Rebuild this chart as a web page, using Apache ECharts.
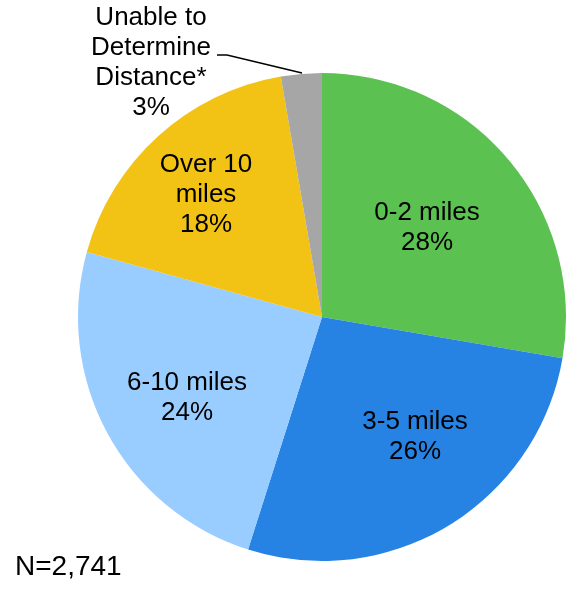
<!DOCTYPE html>
<html>
<head>
<meta charset="utf-8">
<script src="https://cdn.jsdelivr.net/npm/echarts@6/dist/echarts.min.js"></script>
<style>
html,body{margin:0;padding:0;background:#fff;}
#chart{width:577px;height:589px;}
</style>
</head>
<body>
<div id="chart"></div>
<script>
// Data
const categories = ['0-2 miles', '3-5 miles', '6-10 miles', 'Over 10\nmiles', 'Unable to\nDetermine\nDistance*'];
const shares = [27.7, 27.2, 24.4, 18.0, 2.7];
const percentLabels = ['28%', '26%', '24%', '18%', '3%'];
const colors = ['#5BC150', '#2683E3', '#99CCFF', '#F2C314', '#A6A6A6'];
const note = 'N=2,741';

// Label placement (layout only)
const labelPos = [[427, 228], [415, 437], [187, 398], [206, 195], [151, 63]];

const chart = echarts.init(document.getElementById('chart'), null, {renderer: 'canvas'});
const font = '"Liberation Sans", Arial, sans-serif';

const data = categories.map((c, i) => ({
  name: c,
  value: shares[i],
  itemStyle: {color: colors[i]},
  label: i === 4 ? {position: 'outside'} : {position: 'inside'},
  labelLine: {show: i === 4, lineStyle: {color: '#000', width: 1.5}}
}));

chart.setOption({
  backgroundColor: '#fff',
  animation: false,
  graphic: [{
    type: 'text',
    left: 15,
    top: 553,
    style: {text: note, font: '28px ' + font, fill: '#000'}
  }],
  series: [{
    type: 'pie',
    center: [322, 317],
    radius: [0, 244],
    startAngle: 90,
    clockwise: true,
    avoidLabelOverlap: false,
    data: data,
    itemStyle: {borderWidth: 0},
    emphasis: {disabled: true},
    label: {
      show: true,
      color: '#000',
      fontFamily: font,
      fontSize: 26,
      lineHeight: 30,
      align: 'center',
      formatter: p => p.name + '\n' + percentLabels[p.dataIndex]
    },
    labelLayout: function (params) {
      const i = params.dataIndex;
      const out = {x: labelPos[i][0], y: labelPos[i][1], align: 'center', verticalAlign: 'middle'};
      if (i === 4) {
        out.labelLinePoints = [[302, 73], [227, 55], [217, 55]];
      }
      return out;
    }
  }]
});
</script>
</body>
</html>
